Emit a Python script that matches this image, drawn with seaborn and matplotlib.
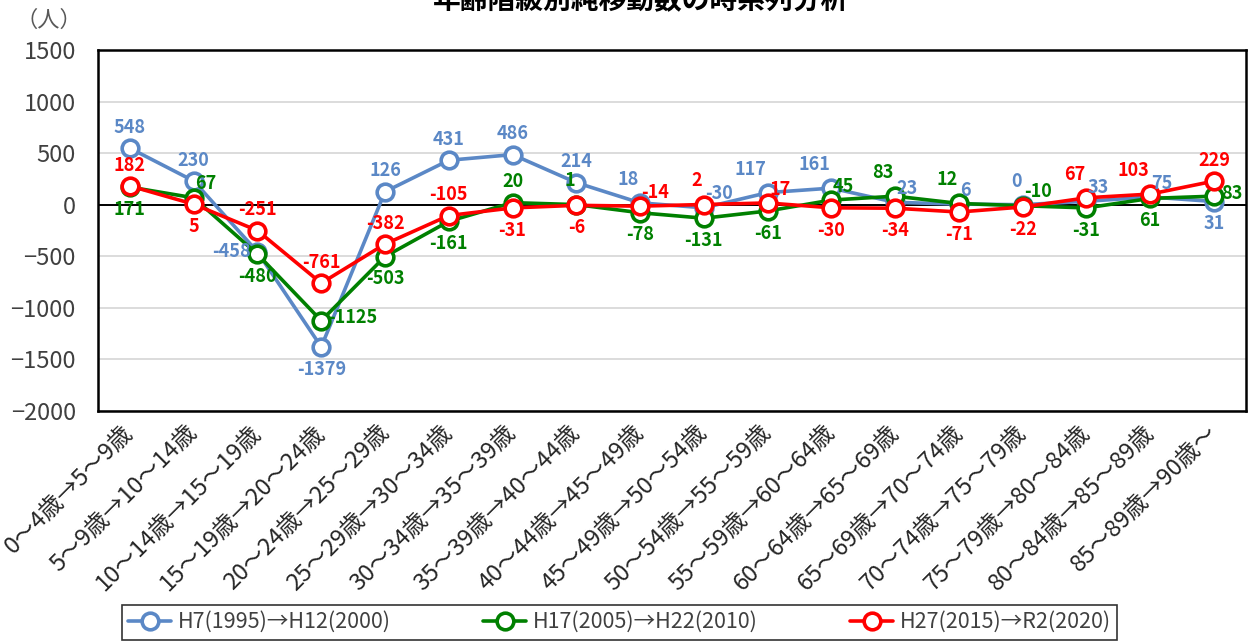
import numpy as np
import pandas as pd
import matplotlib
matplotlib.use("Agg")
import matplotlib.pyplot as plt
import seaborn as sns

# --- data ---
age_groups = ["0～4歳→5～9歳", "5～9歳→10～14歳", "10～14歳→15～19歳", "15～19歳→20～24歳",
              "20～24歳→25～29歳", "25～29歳→30～34歳", "30～34歳→35～39歳", "35～39歳→40～44歳",
              "40～44歳→45～49歳", "45～49歳→50～54歳", "50～54歳→55～59歳", "55～59歳→60～64歳",
              "60～64歳→65～69歳", "65～69歳→70～74歳", "70～74歳→75～79歳", "75～79歳→80～84歳",
              "80～84歳→85～89歳", "85～89歳→90歳～"]
periods = ["H7(1995)→H12(2000)", "H17(2005)→H22(2010)", "H27(2015)→R2(2020)"]
h7_h12 = [548, 230, -458, -1379, 126, 431, 486, 214, 18, -30, 117, 161, 23, 6, 0, 33, 75, 31]
h17_h22 = [171, 67, -480, -1125, -503, -161, 20, 1, -78, -131, -61, 45, 83, 12, -10, -31, 61, 83]
h27_r2 = [182, 5, -251, -761, -382, -105, -31, -6, -14, 2, 17, -30, -34, -71, -22, 67, 103, 229]

# label placement per point (style only)
label_pos = [
    ['a', 'a', 'l', 'b', 'a', 'a', 'a', 'a', 'al', 'ar', 'al', 'al', 'ar', 'ar', 'al', 'ar', 'ar', 'b'],
    ['b', 'ar', 'b', 'r', 'b', 'b', 'a', 'al', 'b', 'b', 'b', 'ar', 'al', 'al', 'ar', 'b', 'b', 'r'],
    ['a', 'b', 'a', 'a', 'a', 'a', 'b', 'b', 'ar', 'al', 'ar', 'b', 'b', 'b', 'b', 'al', 'al', 'a'],
]
offsets = {'a': ('center', 0, 15), 'b': ('center', 0, -16), 'l': ('right', -5, 0),
           'r': ('left', 5, 2), 'al': ('right', -1, 17), 'ar': ('left', 1, 10)}

colors = ["#5B88C6", "#008000", "#FF0000"]

rows = []
for name, vals in zip(periods, [h7_h12, h17_h22, h27_r2]):
    for i, v in enumerate(vals):
        rows.append({"idx": i, "value": v, "period": name})
df = pd.DataFrame(rows)

sns.set_style("white")
plt.rcParams['font.family'] = ['Noto Sans CJK JP', 'DejaVu Sans']

fig = plt.figure(figsize=(12.49, 6.42), dpi=100)
ax = fig.add_axes([0.0785, 0.360, 0.919, 0.562])

ax.axhline(0, color="black", lw=1.4, zorder=1.5)
sns.lineplot(data=df, x="idx", y="value", hue="period", hue_order=periods,
             palette=colors, marker="o", markersize=12, linewidth=2.6,
             legend=False, ax=ax, zorder=3)

lines = ax.lines[1:4]
for ln, c in zip(lines, colors):
    ln.set_markerfacecolor("white")
    ln.set_markeredgecolor(c)
    ln.set_markeredgewidth(2.6)

for vals, pos, c in zip([h7_h12, h17_h22, h27_r2], label_pos, colors):
    for i, v in enumerate(vals):
        ha, dx, dy = offsets[pos[i]]
        ax.annotate(str(v), (i, v), xytext=(dx, dy), textcoords="offset points",
                    ha=ha, va="center", color=c, fontsize=13, fontweight="bold", zorder=5)

ax.set_xlim(-0.5, 17.5)
ax.set_ylim(-2000, 1500)
ax.set_yticks(np.arange(-2000, 1501, 500))
ax.set_xticks(range(len(age_groups)))
ax.set_xticklabels(age_groups, rotation=45, ha="right", va="center", rotation_mode="anchor",
                   fontsize=17, color="#262626")
ax.tick_params(axis="x", length=0, pad=13)
ax.tick_params(axis="y", length=0, pad=16, labelsize=17, labelcolor="#404040")
ax.set_xlabel("")
ax.set_ylabel("")
ax.yaxis.grid(True, color="#D9D9D9", lw=1.3)
ax.set_axisbelow(True)
for s in ax.spines.values():
    s.set_color("black")
    s.set_linewidth(1.8)

fig.text(0.513, 1.0, "年齢階級別純移動数の時系列分析", ha="center", va="center",
         fontsize=20, fontweight="bold", color="black")
fig.text(0.039, 0.968, "（人）", ha="center", va="center", fontsize=16, color="#595959")

leg = fig.legend(lines, periods, loc="upper center", bbox_to_anchor=(0.496, 0.075),
                 ncol=3, fontsize=15.5, frameon=True, fancybox=False, edgecolor="black",
                 columnspacing=4.3, handlelength=2.0, handletextpad=0.3, borderpad=0.3)
leg.get_frame().set_linewidth(1.2)
for t in leg.get_texts():
    t.set_color("#404040")

fig.savefig("out.png", dpi=100)
